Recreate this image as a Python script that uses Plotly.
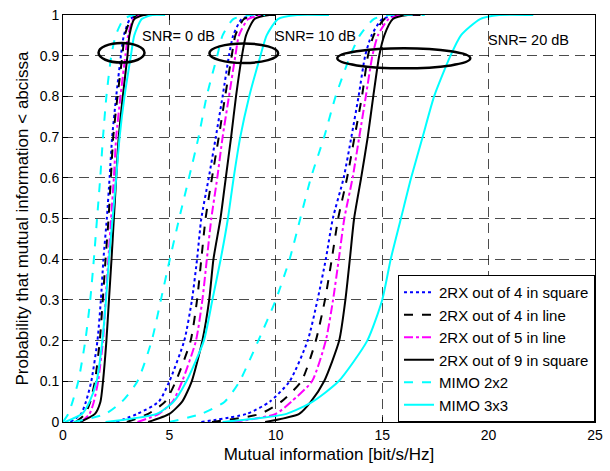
import plotly.graph_objects as go

# Probability levels (CDF ordinate) at which the mutual-information values are listed.
# The last entry repeats 1.0: it marks where each simulated curve ends.
prob_levels = [0, 0.02, 0.05, 0.1, 0.2, 0.3, 0.4, 0.5, 0.6, 0.7, 0.8, 0.9, 0.95, 0.99, 1.0, 1.0]

# Mutual information [bit/s/Hz] at each probability level, per scheme and SNR
rx4sq_snr0 = [0.35, 0.85, 1.08, 1.33, 1.62, 1.78, 1.90, 2.06, 2.19, 2.31, 2.50, 2.72, 2.86, 3.15, 3.6, 3.9]
rx4ln_snr0 = [0.60, 1.05, 1.28, 1.50, 1.73, 1.87, 2.00, 2.14, 2.25, 2.36, 2.56, 2.79, 2.90, 3.20, 3.6, 4.0]
rx5ln_snr0 = [0.85, 1.25, 1.45, 1.65, 1.88, 2.00, 2.13, 2.26, 2.39, 2.50, 2.70, 2.93, 3.06, 3.30, 3.7, 4.0]
rx9sq_snr0 = [0.80, 1.50, 1.76, 1.88, 2.04, 2.16, 2.28, 2.39, 2.50, 2.62, 2.81, 3.03, 3.12, 3.35, 3.8, 4.1]
mimo2_snr0 = [0.00, 0.25, 0.45, 0.72, 1.05, 1.28, 1.45, 1.60, 1.75, 1.88, 2.04, 2.27, 2.48, 2.85, 3.3, 3.6]
mimo3_snr0 = [0.10, 0.90, 1.25, 1.58, 1.85, 2.02, 2.16, 2.33, 2.50, 2.66, 2.89, 3.19, 3.35, 3.70, 4.2, 4.8]

rx4sq_snr10 = [2.5, 3.5, 4.5, 5.00, 5.70, 6.06, 6.30, 6.50, 6.85, 7.18, 7.50, 7.80, 8.00, 8.40, 9.0, 9.6]
rx4ln_snr10 = [3.0, 4.0, 4.8, 5.30, 6.00, 6.30, 6.50, 6.70, 7.00, 7.32, 7.62, 7.93, 8.10, 8.50, 9.1, 9.6]
rx5ln_snr10 = [3.5, 4.5, 5.15, 5.60, 6.25, 6.55, 6.76, 6.97, 7.25, 7.50, 7.80, 8.10, 8.27, 8.70, 9.4, 9.8]
rx9sq_snr10 = [4.0, 5.0, 5.6, 6.05, 6.55, 6.87, 7.07, 7.40, 7.65, 7.90, 8.13, 8.41, 8.60, 9.00, 9.7, 10.0]
mimo2_snr10 = [0.5, 2.0, 2.77, 3.50, 4.17, 4.60, 5.02, 5.46, 5.92, 6.37, 6.75, 7.25, 7.50, 8.00, 8.8, 9.5]
mimo3_snr10 = [2.0, 4.4, 5.2, 5.80, 6.62, 7.02, 7.41, 7.75, 8.02, 8.33, 8.75, 9.28, 9.57, 10.1, 11.0, 12.5]

rx4sq_snr20 = [6.5, 8.64, 9.72, 10.65, 11.50, 11.96, 12.35, 12.68, 13.19, 13.55, 13.89, 14.20, 14.50, 15.0, 15.8, 16.5]
rx4ln_snr20 = [7.0, 9.26, 10.26, 11.20, 11.88, 12.31, 12.63, 12.93, 13.35, 13.70, 14.05, 14.33, 14.60, 15.1, 15.9, 16.5]
rx5ln_snr20 = [8.0, 10.0, 10.73, 11.70, 12.35, 12.69, 12.96, 13.22, 13.61, 13.92, 14.23, 14.54, 14.80, 15.3, 16.0, 16.8]
rx9sq_snr20 = [9.5, 11.1, 11.65, 12.27, 12.98, 13.27, 13.48, 13.68, 14.01, 14.32, 14.58, 14.86, 15.10, 15.5, 16.2, 16.8]
mimo2_snr20 = [5.0, 6.5, 7.60, 8.30, 9.18, 10.00, 10.65, 11.15, 11.65, 12.27, 12.81, 13.50, 13.95, 14.6, 15.3, 17.0]
mimo3_snr20 = [7.5, 10.5, 11.73, 12.95, 14.30, 15.00, 15.40, 15.88, 16.36, 16.90, 17.44, 18.21, 18.70, 19.6, 20.5, 22.1]

series_names = ["2RX out of 4 in square", "2RX out of 4 in line", "2RX out of 5 in line",
                "2RX out of 9 in square", "MIMO 2x2", "MIMO 3x3"]
series_colors = ["#0000ff", "#000000", "#ff00ff", "#000000", "#00ffff", "#00ffff"]
series_dashes = ["dot", "dash", "dashdot", "solid", "dash", "solid"]
curves = [
    [rx4sq_snr0, rx4sq_snr10, rx4sq_snr20],
    [rx4ln_snr0, rx4ln_snr10, rx4ln_snr20],
    [rx5ln_snr0, rx5ln_snr10, rx5ln_snr20],
    [rx9sq_snr0, rx9sq_snr10, rx9sq_snr20],
    [mimo2_snr0, mimo2_snr10, mimo2_snr20],
    [mimo3_snr0, mimo3_snr10, mimo3_snr20],
]

snr_labels = ["SNR= 0 dB", "SNR= 10 dB", "SNR= 20 dB"]
snr_label_x = [3.72, 9.95, 19.95]
snr_label_y = [0.948, 0.948, 0.938]
# Ellipses grouping each SNR bundle: (x0, x1, y0, y1)
ellipse_boxes = [(1.67, 3.83, 0.883, 0.931), (6.88, 10.11, 0.882, 0.930), (12.89, 19.14, 0.869, 0.918)]

FONT = "Liberation Sans, Arial, sans-serif"

fig = go.Figure()
for name, color, dash, per_snr in zip(series_names, series_colors, series_dashes, curves):
    for k, xs in enumerate(per_snr):
        fig.add_trace(go.Scatter(
            x=xs, y=prob_levels, mode="lines", name=name, legendgroup=name,
            showlegend=(k == 0),
            line=dict(color=color, width=2, dash=dash, shape="spline", smoothing=0.6),
        ))

for text, x, y in zip(snr_labels, snr_label_x, snr_label_y):
    fig.add_annotation(x=x, y=y, text=text, showarrow=False, xanchor="left", yanchor="middle",
                       xshift=-2, font=dict(family=FONT, size=14.5, color="black"))

for x0, x1, y0, y1 in ellipse_boxes:
    fig.add_shape(type="circle", xref="x", yref="y", x0=x0, x1=x1, y0=y0, y1=y1,
                  line=dict(color="black", width=2.5))

axis_common = dict(
    showline=True, linecolor="black", linewidth=1, mirror="ticks",
    ticks="inside", ticklen=5, tickcolor="black",
    showgrid=True, gridcolor="rgba(0,0,0,0.7)", gridwidth=1, griddash="10px,6px",
    zeroline=False, tickfont=dict(family=FONT, size=14, color="black"),
)

fig.update_xaxes(range=[0, 25], tickvals=[0, 5, 10, 15, 20, 25],
                 title=dict(text="Mutual information [bit/s/Hz]", font=dict(family=FONT, size=17, color="black"), standoff=6),
                 **axis_common)
fig.update_yaxes(range=[0, 1], tickvals=[0, 0.1, 0.2, 0.3, 0.4, 0.5, 0.6, 0.7, 0.8, 0.9, 1],
                 ticktext=["0", "0.1", "0.2", "0.3", "0.4", "0.5", "0.6", "0.7", "0.8", "0.9", "1"],
                 title=dict(text="Probability that mutual information < abcissa", font=dict(family=FONT, size=17, color="black"), standoff=6),
                 **axis_common)

fig.update_layout(
    width=610, height=471,
    margin=dict(l=63, r=7, t=13, b=49),
    paper_bgcolor="white", plot_bgcolor="white",
    font=dict(family=FONT, size=14, color="black"),
    legend=dict(x=1, y=0, xanchor="right", yanchor="bottom",
                bgcolor="white", bordercolor="black", borderwidth=1,
                font=dict(family=FONT, size=15, color="black"),
                tracegroupgap=0, itemwidth=30),
)

fig.write_html("out.html")
